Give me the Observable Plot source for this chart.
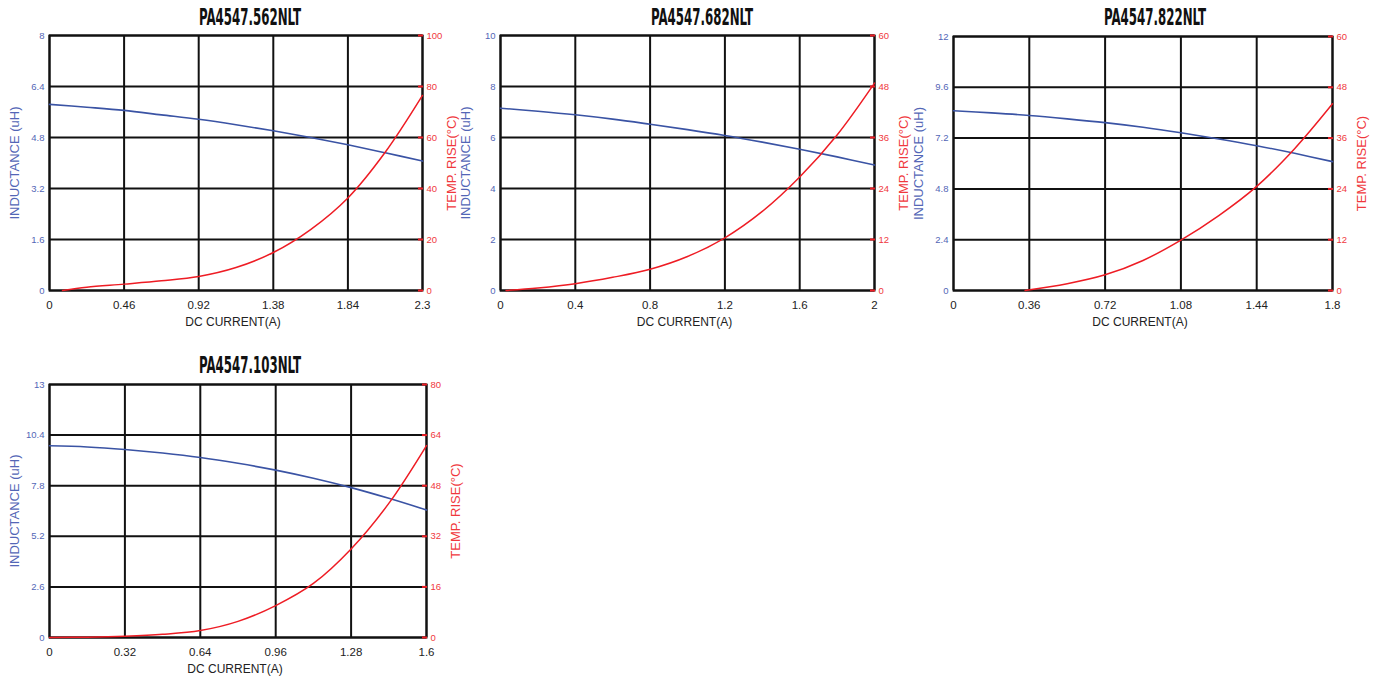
<!DOCTYPE html>
<html><head><meta charset="utf-8">
<script src="https://cdn.jsdelivr.net/npm/d3@7"></script>
<script src="https://cdn.jsdelivr.net/npm/@observablehq/plot@0.6"></script>
<style>
body{margin:0;background:#fff;}
#root{position:relative;width:1381px;height:679px;overflow:hidden;background:#fff;}
.ttl{position:absolute;font-family:"Liberation Sans Narrow","DejaVu Sans Condensed",sans-serif;font-weight:bold;font-size:22px;line-height:1;white-space:nowrap;color:#111;}
.chart{position:absolute;}
</style></head><body><div id="root"></div>
<script>
// ---------- data ----------
const titles = ["PA4547.562NLT", "PA4547.682NLT", "PA4547.822NLT", "PA4547.103NLT"];
const xLabel = "DC CURRENT(A)";
const leftLabel = "INDUCTANCE (uH)";
const rightLabel = "TEMP. RISE(°C)";

// chart 1
const xTicks1 = [0, 0.46, 0.92, 1.38, 1.84, 2.3];
const lTicks1 = [0, 1.6, 3.2, 4.8, 6.4, 8];
const tTicks1 = [0, 20, 40, 60, 80, 100];
const indCur1 = [0, 0.23, 0.46, 0.69, 0.92, 1.15, 1.38, 1.61, 1.84, 2.07, 2.3];
const ind1 = [5.84, 5.75, 5.65, 5.51, 5.37, 5.20, 5.01, 4.80, 4.57, 4.32, 4.06];
const tmpCur1 = [0.08, 0.23, 0.46, 0.69, 0.92, 1.15, 1.38, 1.61, 1.84, 2.07, 2.3];
const tmp1 = [0, 1.3, 2.5, 3.8, 5.5, 9.0, 14.9, 23.9, 36.3, 54.2, 76.5];

// chart 2
const xTicks2 = [0, 0.4, 0.8, 1.2, 1.6, 2];
const lTicks2 = [0, 2, 4, 6, 8, 10];
const tTicks2 = [0, 12, 24, 36, 48, 60];
const indCur2 = [0, 0.2, 0.4, 0.6, 0.8, 1.0, 1.2, 1.4, 1.6, 1.8, 2.0];
const ind2 = [7.15, 7.03, 6.89, 6.72, 6.52, 6.31, 6.08, 5.82, 5.54, 5.24, 4.92];
const tmpCur2 = [0.03, 0.2, 0.4, 0.6, 0.8, 1.0, 1.2, 1.4, 1.6, 1.8, 2.0];
const tmp2 = [0, 0.6, 1.6, 3.1, 5.0, 8.0, 12.4, 18.6, 26.7, 36.6, 48.8];

// chart 3
const xTicks3 = [0, 0.36, 0.72, 1.08, 1.44, 1.8];
const lTicks3 = [0, 2.4, 4.8, 7.2, 9.6, 12];
const tTicks3 = [0, 12, 24, 36, 48, 60];
const indCur3 = [0, 0.18, 0.36, 0.54, 0.72, 0.9, 1.08, 1.26, 1.44, 1.62, 1.8];
const ind3 = [8.49, 8.39, 8.27, 8.11, 7.93, 7.71, 7.45, 7.16, 6.84, 6.48, 6.09];
const tmpCur3 = [0.34, 0.54, 0.72, 0.9, 1.08, 1.26, 1.44, 1.62, 1.8];
const tmp3 = [0, 1.6, 3.7, 7.1, 11.9, 17.7, 24.6, 33.5, 44.1];

// chart 4
const xTicks4 = [0, 0.32, 0.64, 0.96, 1.28, 1.6];
const lTicks4 = [0, 2.6, 5.2, 7.8, 10.4, 13];
const tTicks4 = [0, 16, 32, 48, 64, 80];
const indCur4 = [0, 0.16, 0.32, 0.48, 0.64, 0.8, 0.96, 1.12, 1.28, 1.44, 1.6];
const ind4 = [9.85, 9.79, 9.66, 9.48, 9.25, 8.95, 8.60, 8.18, 7.70, 7.15, 6.55];
const tmpCur4 = [0, 0.16, 0.32, 0.48, 0.64, 0.8, 0.96, 1.12, 1.28, 1.44, 1.6];
const tmp4 = [0, 0.1, 0.4, 1.0, 2.2, 5.1, 10.1, 17.1, 28.0, 42.4, 60.7];

// ---------- layout ----------
const BLUE = "#3a53a4", BLUE_T = "#5366b6", RED = "#ee1c24", RED_T = "#f0383d";
const FONT = "'Liberation Sans', Arial, sans-serif";
const root = document.getElementById("root");

const charts = [
  {title: titles[0], xTicks: xTicks1, lTicks: lTicks1, tTicks: tTicks1, ic: indCur1, iv: ind1, tc: tmpCur1, tv: tmp1,
   fx: 49, fy: 35, w: 373, h: 255, tx: 250, ty: 17.5},
  {title: titles[1], xTicks: xTicks2, lTicks: lTicks2, tTicks: tTicks2, ic: indCur2, iv: ind2, tc: tmpCur2, tv: tmp2,
   fx: 500, fy: 35, w: 374, h: 255, tx: 702, ty: 17.5},
  {title: titles[2], xTicks: xTicks3, lTicks: lTicks3, tTicks: tTicks3, ic: indCur3, iv: ind3, tc: tmpCur3, tv: tmp3,
   fx: 953, fy: 36, w: 379, h: 254, tx: 1154.5, ty: 17.5},
  {title: titles[3], xTicks: xTicks4, lTicks: lTicks4, tTicks: tTicks4, ic: indCur4, iv: ind4, tc: tmpCur4, tv: tmp4,
   fx: 49, fy: 384, w: 377, h: 253, tx: 249.5, ty: 365.5}
];

const mL = 49, mR = 45, mT = 6, mB = 44;

for (const c of charts) {
  const Lmax = c.lTicks[c.lTicks.length - 1];
  const Tmax = c.tTicks[c.tTicks.length - 1];
  const k = Lmax / Tmax;
  const xMax = c.xTicks[c.xTicks.length - 1];
  const indData = c.ic.map((x, i) => ({x, y: c.iv[i]}));
  const tmpData = c.tc.map((x, i) => ({x, y: c.tv[i] * k}));
  const rightPos = c.tTicks.map(t => t * k);

  const svg = Plot.plot({
    width: c.w + mL + mR, height: c.h + mT + mB,
    marginLeft: mL, marginRight: mR, marginTop: mT, marginBottom: mB,
    style: {fontFamily: FONT, background: "transparent", overflow: "visible"},
    x: {domain: [0, xMax]},
    y: {domain: [0, Lmax]},
    marks: [
      Plot.gridX(c.xTicks, {stroke: "#111", strokeOpacity: 1, strokeWidth: 2}),
      Plot.gridY(c.lTicks, {stroke: "#111", strokeOpacity: 1, strokeWidth: 2}),
      Plot.frame({stroke: "#111", strokeWidth: 2}),
      Plot.axisX(c.xTicks, {anchor: "bottom", tickSize: 0, tickPadding: 10, fontSize: 11.5, color: "#222",
        label: null, tickFormat: d => String(d)}),
      Plot.axisY(c.lTicks, {anchor: "left", tickSize: 0, tickPadding: 5, fontSize: 9.5, color: BLUE_T,
        label: null, tickFormat: d => String(d)}),
      Plot.axisY(rightPos, {anchor: "right", tickSize: -5, tickPadding: 9, fontSize: 9.5, color: RED_T,
        stroke: RED, strokeWidth: 2, label: null, tickFormat: d => String(Math.round(d / k * 100) / 100)}),
      Plot.text([xLabel], {frameAnchor: "bottom", dy: 35, dx: -3, fontSize: 12, fill: "#222", textAnchor: "middle"}),
      Plot.text([leftLabel], {frameAnchor: "left", rotate: -90, dx: -34.5, fontSize: 13, fill: BLUE_T, textAnchor: "middle"}),
      Plot.text([rightLabel], {frameAnchor: "right", rotate: -90, dx: 29, fontSize: 13, fill: RED_T, textAnchor: "middle"}),
      Plot.line(indData, {x: "x", y: "y", stroke: BLUE, strokeWidth: 1.6, curve: "catmull-rom"}),
      Plot.line(tmpData, {x: "x", y: "y", stroke: RED, strokeWidth: 1.5, curve: "catmull-rom"})
    ]
  });
  svg.classList.add("chart");
  svg.style.left = (c.fx - mL) + "px";
  svg.style.top = (c.fy - mT) + "px";
  root.appendChild(svg);

  const t = document.createElement("div");
  t.className = "ttl";
  t.textContent = c.title;
  root.appendChild(t);
  const wd = t.getBoundingClientRect().width;
  const s = 102 / wd;
  t.style.left = c.tx + "px";
  t.style.top = c.ty + "px";
  t.style.transform = `translate(-50%,-50%) scale(${s}, 1.05)`;
}
</script>
</body></html>
